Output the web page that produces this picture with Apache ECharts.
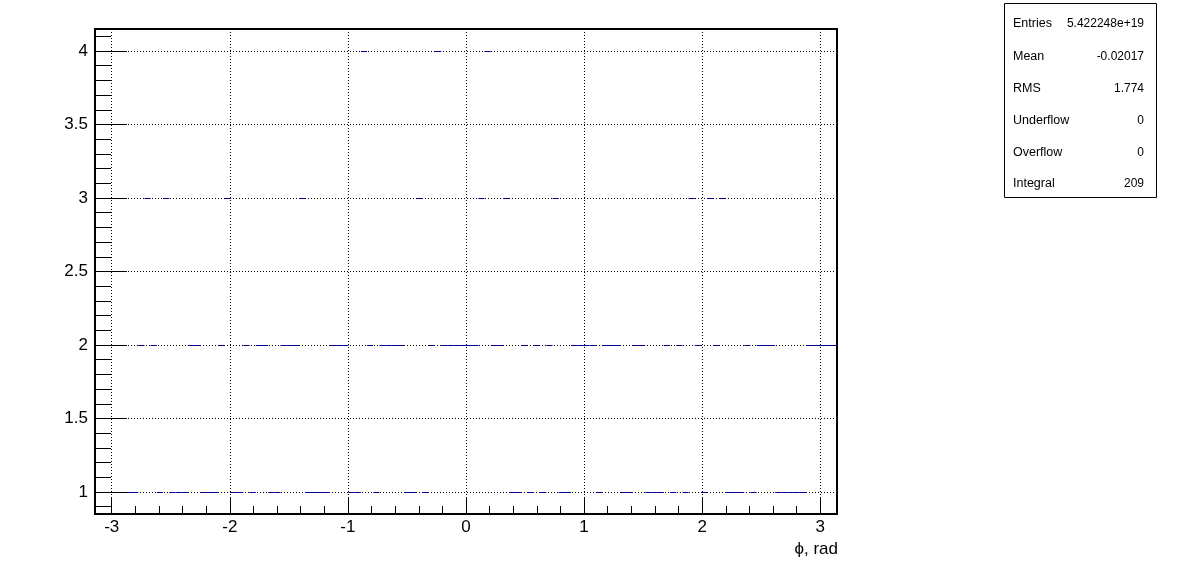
<!DOCTYPE html>
<html><head><meta charset="utf-8">
<script src="https://cdn.jsdelivr.net/npm/echarts@6/dist/echarts.min.js"></script>
<style>html,body{margin:0;padding:0;background:#fff}#c{width:1196px;height:572px}</style>
</head><body><div id="c"></div>
<script>
// Histogram: 120 bins of phi in [-pi, pi]
const phiMin = -Math.PI;
const phiMax = Math.PI;
const binContents = [
  2,2,2,2,2, 1,1,2,3,2, 1,3,1,1,1, 2,2,1,1,1,
  2,3,1,1,2, 1,2,2,1,1, 2,2,2,3,1, 1,1,1,2,2,
  2,1,1,4,2, 1,2,2,2,2, 1,1,3,1,2, 4,2,2,2,2,
  2,2,3,4,2, 2,3,1,1,2, 1,2,1,2,3, 1,1,2,2,2,
  2,1,2,2,2, 1,1,2,2,1, 1,1,2,1,2, 1,3,2,1,3,
  2,3,1,1,1, 2,1,2,2,2, 1,1,1,1,1, 2,2,2,2,2
];
const yMin = 0.85;
const yMax = 4.15;
const xMajorTicks = [-3, -2, -1, 0, 1, 2, 3];
const xMinorTicks = [-2.8,-2.6,-2.4,-2.2,-1.8,-1.6,-1.4,-1.2,-0.8,-0.6,-0.4,-0.2,0.2,0.4,0.6,0.8,1.2,1.4,1.6,1.8,2.2,2.4,2.6,2.8];
const yMajorTicks = [1, 1.5, 2, 2.5, 3, 3.5, 4];
const yMinorTicks = [0.9,1.1,1.2,1.3,1.4,1.6,1.7,1.8,1.9,2.1,2.2,2.3,2.4,2.6,2.7,2.8,2.9,3.1,3.2,3.3,3.4,3.6,3.7,3.8,3.9,4.1];
const xTitle = 'ϕ, rad';
const statsLabels = ['Entries', 'Mean', 'RMS', 'Underflow', 'Overflow', 'Integral'];
const statsValues = ['5.422248e+19', '-0.02017', '1.774', '0', '0', '209'];

const binWidth = (phiMax - phiMin) / binContents.length;
const histData = binContents.map((v, i) => [phiMin + i * binWidth, phiMin + (i + 1) * binWidth, v]);

const FONT = 'Liberation Sans, Arial, Helvetica, sans-serif';
const labelStyle = { fontFamily: FONT, fontSize: 17, color: '#000' };

function xAx(extra) {
  return Object.assign({ type: 'value', min: phiMin, max: phiMax, gridIndex: 0, position: 'bottom', offset: 0,
    axisLine: { show: false, onZero: false }, splitLine: { show: false }, axisLabel: { show: false }, axisTick: { show: false } }, extra);
}
function yAx(extra) {
  return Object.assign({ type: 'value', min: yMin, max: yMax, gridIndex: 0, position: 'left', offset: 0,
    axisLine: { show: false, onZero: false }, splitLine: { show: false }, axisLabel: { show: false }, axisTick: { show: false } }, extra);
}

const chart = echarts.init(document.getElementById('c'), null, { renderer: 'canvas' });
const statsGraphics = [];
const rowY = [24, 57, 89, 121, 153, 184];
statsGraphics.push({ type: 'rect', shape: { x: 1004.5, y: 3.5, width: 152, height: 194 },
  style: { fill: '#fff', stroke: '#000', lineWidth: 1 }, z: 10 });
statsLabels.forEach((lab, i) => {
  statsGraphics.push({ type: 'text', x: 1013, y: rowY[i], z: 11,
    style: { text: lab, font: '12.5px ' + FONT, fill: '#000', textAlign: 'left', textVerticalAlign: 'middle' } });
  statsGraphics.push({ type: 'text', x: 1144, y: rowY[i], z: 11,
    style: { text: statsValues[i], font: '12px ' + FONT, fill: '#000', textAlign: 'right', textVerticalAlign: 'middle' } });
});
statsGraphics.push({ type: 'text', x: 838, y: 549, z: 11,
  style: { text: xTitle, font: '17px ' + FONT, fill: '#000', textAlign: 'right', textVerticalAlign: 'middle' } });

chart.setOption({
  animation: false,
  backgroundColor: '#fff',
  grid: { left: 95, top: 29, width: 742, height: 485, show: true, borderColor: '#000', borderWidth: 2, backgroundColor: 'rgba(0,0,0,0)' },
  xAxis: [
    xAx({ z: 0, axisTick: { show: false, customValues: xMajorTicks }, axisLabel: { show: false, customValues: xMajorTicks },
      splitLine: { show: true, lineStyle: { color: '#000', width: 1, type: [1, 2] } } }),
    xAx({ z: 5, axisTick: { show: true, inside: true, length: 16, customValues: xMajorTicks, lineStyle: { color: '#000', width: 1 } },
      axisLabel: Object.assign({ show: true, margin: 5, customValues: xMajorTicks }, labelStyle) }),
    xAx({ z: 5, axisTick: { show: true, inside: true, length: 8, customValues: xMinorTicks, lineStyle: { color: '#000', width: 1 } } })
  ],
  yAxis: [
    yAx({ z: 0, axisTick: { show: false, customValues: yMajorTicks }, axisLabel: { show: false, customValues: yMajorTicks },
      splitLine: { show: true, lineStyle: { color: '#000', width: 1, type: [1, 2] } } }),
    yAx({ z: 5, axisTick: { show: true, inside: true, length: 32, customValues: yMajorTicks, lineStyle: { color: '#000', width: 1 } },
      axisLabel: Object.assign({ show: true, margin: 7, customValues: yMajorTicks }, labelStyle) }),
    yAx({ z: 5, axisTick: { show: true, inside: true, length: 16, customValues: yMinorTicks, lineStyle: { color: '#000', width: 1 } } })
  ],
  graphic: statsGraphics,
  series: [{
    type: 'custom',
    xAxisIndex: 0,
    yAxisIndex: 0,
    z: 2,
    clip: true,
    encode: { x: [0, 1], y: 2 },
    data: histData,
    renderItem: function (params, api) {
      const a = api.coord([api.value(0), api.value(2)]);
      const b = api.coord([api.value(1), api.value(2)]);
      const y = Math.round(a[1]) + 0.5;
      return { type: 'line', shape: { x1: a[0], y1: y, x2: b[0], y2: y },
        style: { stroke: '#000099', lineWidth: 1 } };
    }
  }]
});
</script>
</body></html>
